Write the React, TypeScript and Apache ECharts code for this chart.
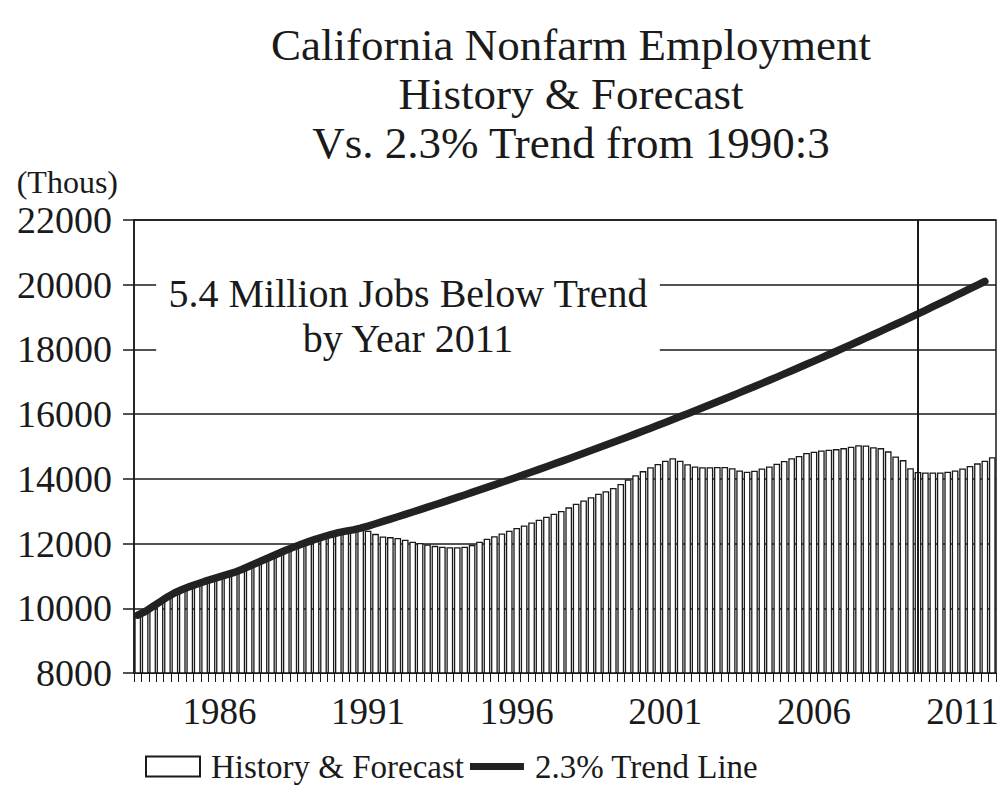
import React, { useEffect, useRef } from "react";
import * as echarts from "echarts";

// Quarterly categories 1983:2 .. 2012:1
const quarters: string[] = [];
for (let y = 1983; y <= 2012; y++) {
  for (let q = 1; q <= 4; q++) {
    if ((y === 1983 && q < 2) || (y === 2012 && q > 1)) continue;
    quarters.push(`${y}:${q}`);
  }
}

const yearLabels = ["1986", "1991", "1996", "2001", "2006", "2011"];

// California nonfarm employment, thousands (history through 2009:2, forecast after)
const employment = [
  9790, 9900, 10050, 10200, 10350, 10480, 10580, 10670, 10750, 10830,
  10900, 10970, 11040, 11110, 11200, 11300, 11400, 11500, 11600, 11700,
  11800, 11890, 11980, 12060, 12150, 12220, 12290, 12360, 12400, 12420,
  12430, 12400, 12300, 12220, 12200, 12170, 12120, 12060, 12020, 11970,
  11930, 11900, 11890, 11890, 11900, 11960, 12060, 12150, 12230, 12310,
  12400, 12480, 12560, 12650, 12740, 12830, 12920, 13010, 13120, 13230,
  13330, 13430, 13540, 13620, 13720, 13840, 13980, 14110, 14240, 14360,
  14460, 14560, 14640, 14560, 14450, 14380, 14360, 14360, 14370, 14370,
  14330, 14260, 14220, 14250, 14320, 14380, 14470, 14550, 14640, 14710,
  14800, 14840, 14880, 14900, 14920, 14950, 14990, 15040, 15030, 14980,
  14950, 14850, 14690, 14580, 14330, 14210, 14200, 14200, 14200, 14220,
  14260, 14320, 14400, 14480, 14560, 14670,
];

// History until 1990:3, then the 2.3% trend line
const trend = [
  9790, 9900, 10050, 10200, 10350, 10480, 10580, 10670, 10750, 10830,
  10900, 10970, 11040, 11110, 11200, 11300, 11400, 11500, 11600, 11700,
  11800, 11890, 11980, 12060, 12140, 12210, 12280, 12340, 12385, 12425,
  12475, 12542, 12613, 12685, 12757, 12830, 12903, 12977, 13051, 13125,
  13200, 13275, 13351, 13427, 13503, 13581, 13658, 13736, 13814, 13893,
  13972, 14052, 14132, 14213, 14294, 14375, 14457, 14540, 14623, 14706,
  14790, 14874, 14959, 15044, 15130, 15216, 15303, 15390, 15478, 15566,
  15655, 15744, 15834, 15924, 16015, 16106, 16198, 16290, 16383, 16476,
  16570, 16665, 16760, 16855, 16951, 17048, 17145, 17243, 17341, 17441,
  17540, 17640, 17740, 17842, 17943, 18046, 18149, 18252, 18356, 18461,
  18566, 18672, 18778, 18885, 18993, 19101, 19210, 19320, 19430, 19541,
  19652, 19764, 19877, 19990, 20104,
];

const yTicks = { min: 8000, max: 22000, interval: 2000 };
const forecastStart = 104.5; // boundary between 2009:2 and 2009:3

const FONT = "'Liberation Serif', 'Times New Roman', serif";
const INK = "#1a1a1a";

export default function App() {
  const ref = useRef<HTMLDivElement>(null);

  useEffect(() => {
    if (!ref.current) return;
    const chart = echarts.init(ref.current, undefined, { renderer: "svg" });
    chart.setOption({
      animation: false,
      backgroundColor: "#ffffff",
      textStyle: { fontFamily: FONT, color: INK },
      title: {
        text: "California Nonfarm Employment\nHistory & Forecast\nVs. 2.3% Trend from 1990:3",
        left: 566,
        top: 15,
        textAlign: "center",
        textStyle: {
          fontFamily: FONT,
          fontSize: 45,
          fontWeight: "normal",
          color: INK,
          lineHeight: 49,
        },
      },
      grid: {
        left: 134,
        right: 12,
        top: 220,
        bottom: 119,
        show: true,
        borderColor: INK,
        borderWidth: 1.5,
        backgroundColor: "transparent",
      },
      legend: {
        left: 140,
        top: 745,
        itemWidth: 54,
        itemHeight: 20,
        itemGap: 6,
        textStyle: { fontFamily: FONT, fontSize: 33, color: INK, padding: [0, 0, 0, 6] },
        data: [
          { name: "History & Forecast", icon: "rect" },
          { name: "2.3% Trend Line", icon: "path://M0,0 L54,0 L54,7 L0,7 Z" },
        ],
      },
      xAxis: {
        type: "category",
        data: quarters,
        boundaryGap: true,
        axisLine: { lineStyle: { color: INK, width: 1.5 } },
        axisTick: {
          show: true,
          interval: 0,
          length: 9,
          lineStyle: { color: INK, width: 1 },
        },
        axisLabel: {
          interval: (idx: number, val: string) =>
            yearLabels.includes(val.split(":")[0]) && val.endsWith(":1"),
          formatter: (val: string) => val.split(":")[0],
          fontFamily: FONT,
          fontSize: 37,
          color: INK,
          margin: 20,
        },
        splitLine: { show: false },
      },
      yAxis: {
        type: "value",
        min: yTicks.min,
        max: yTicks.max,
        interval: yTicks.interval,
        name: "(Thous)",
        nameLocation: "end",
        nameGap: 22,
        nameTextStyle: {
          fontFamily: FONT,
          fontSize: 32,
          color: INK,
          align: "right",
          padding: [0, 16, 0, 0],
        },
        axisLine: { show: true, lineStyle: { color: INK, width: 1.5 } },
        axisTick: { show: true, length: 11, lineStyle: { color: INK, width: 1.5 } },
        axisLabel: {
          fontFamily: FONT,
          fontSize: 38,
          color: INK,
          margin: 22,
          formatter: (v: number) => String(v),
        },
        splitLine: { show: true, lineStyle: { color: INK, width: 1.5 } },
      },
      series: [
        {
          name: "History & Forecast",
          type: "bar",
          data: employment,
          barCategoryGap: "10%",
          itemStyle: { color: "#ffffff", borderColor: INK, borderWidth: 1.3 },
          z: 2,
          markLine: {
            silent: true,
            symbol: "none",
            label: { show: false },
            lineStyle: { color: INK, width: 2, type: "solid" },
            data: [{ xAxis: forecastStart }],
          },
        },
        {
          name: "2.3% Trend Line",
          type: "line",
          data: trend,
          symbol: "none",
          lineStyle: { color: "#222", width: 7.5, cap: "round", join: "round" },
          itemStyle: { color: "#222" },
          z: 4,
        },
      ],
      graphic: [
        {
          type: "text",
          x: 408,
          y: 266,
          z: 10,
          style: {
            text: "5.4 Million Jobs Below Trend\nby Year 2011",
            font: `40px ${FONT}`,
            fill: INK,
            textAlign: "center",
            textVerticalAlign: "top",
            lineHeight: 45,
            backgroundColor: "#ffffff",
            padding: [5, 12, 5, 12],
          },
        },
      ],
    });
    return () => chart.dispose();
  }, []);

  return (
    <div
      ref={ref}
      style={{ position: "fixed", left: 0, top: 0, width: 1008, height: 792 }}
    />
  );
}
